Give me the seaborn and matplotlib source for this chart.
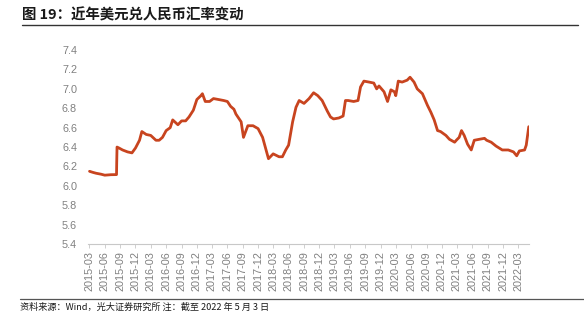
import matplotlib
matplotlib.use("Agg")
import matplotlib.pyplot as plt
import seaborn as sns
import pandas as pd

dates = [
    "2015-03-02", "2015-03-20", "2015-04-10", "2015-05-10", "2015-06-01", "2015-07-08",
    "2015-08-10", "2015-08-11", "2015-08-13", "2015-08-25", "2015-09-15", "2015-10-15",
    "2015-11-10", "2015-12-01", "2015-12-25", "2016-01-08", "2016-02-03", "2016-03-01",
    "2016-04-01", "2016-04-20", "2016-05-10", "2016-06-01", "2016-06-25", "2016-07-10",
    "2016-08-10", "2016-09-01", "2016-09-25", "2016-10-15", "2016-11-10", "2016-12-01",
    "2016-12-25", "2017-01-03", "2017-01-20", "2017-02-15", "2017-03-10", "2017-04-10",
    "2017-05-10", "2017-06-01", "2017-06-20", "2017-07-10", "2017-07-22", "2017-08-22",
    "2017-09-05", "2017-10-01", "2017-11-01", "2017-12-01", "2017-12-28", "2018-02-01",
    "2018-03-01", "2018-04-05", "2018-04-25", "2018-05-15", "2018-06-01", "2018-06-25",
    "2018-07-15", "2018-08-03", "2018-09-01", "2018-10-01", "2018-10-28", "2018-11-22",
    "2018-12-18", "2019-01-18", "2019-02-06", "2019-02-24", "2019-03-28", "2019-04-22",
    "2019-05-06", "2019-05-22", "2019-06-24", "2019-07-20", "2019-08-04", "2019-08-24",
    "2019-09-24", "2019-10-22", "2019-11-08", "2019-11-22", "2019-12-22", "2020-01-12",
    "2020-02-01", "2020-02-22", "2020-03-01", "2020-03-16", "2020-04-08", "2020-05-08",
    "2020-05-25", "2020-06-18", "2020-07-07", "2020-08-07", "2020-09-06", "2020-09-26",
    "2020-10-16", "2020-11-05", "2020-11-23", "2020-12-25", "2021-01-15", "2021-02-15",
    "2021-02-25", "2021-03-14", "2021-03-28", "2021-04-13", "2021-05-03", "2021-05-25",
    "2021-06-12", "2021-07-12", "2021-08-12", "2021-08-25", "2021-09-21", "2021-10-20",
    "2021-11-26", "2022-01-01", "2022-02-01", "2022-02-20", "2022-03-08", "2022-04-08",
    "2022-04-18", "2022-05-03",
]
rates = [
    6.15, 6.14, 6.13, 6.12, 6.11, 6.115,
    6.116, 6.23, 6.40, 6.39, 6.37, 6.35,
    6.34, 6.39, 6.47, 6.56, 6.53, 6.52,
    6.47, 6.47, 6.50, 6.57, 6.60, 6.68,
    6.63, 6.67, 6.67, 6.71, 6.78, 6.89,
    6.93, 6.95, 6.87, 6.87, 6.90, 6.89,
    6.88, 6.87, 6.82, 6.79, 6.74, 6.66,
    6.50, 6.62, 6.62, 6.59, 6.50, 6.28,
    6.33, 6.30, 6.30, 6.37, 6.42, 6.66,
    6.81, 6.88, 6.85, 6.90, 6.96, 6.93,
    6.88, 6.77, 6.71, 6.69, 6.70, 6.72,
    6.88, 6.88, 6.87, 6.88, 7.02, 7.08,
    7.07, 7.06, 7.00, 7.03, 6.97, 6.87,
    6.99, 6.97, 6.93, 7.08, 7.07, 7.09,
    7.12, 7.07, 7.00, 6.95, 6.83, 6.76,
    6.68, 6.57, 6.56, 6.52, 6.48, 6.45,
    6.47, 6.50, 6.57, 6.52, 6.43, 6.37,
    6.47, 6.48, 6.49, 6.47, 6.45, 6.41,
    6.37, 6.37, 6.35, 6.31, 6.36, 6.37,
    6.42, 6.61,
]
yticks = [5.4, 5.6, 5.8, 6.0, 6.2, 6.4, 6.6, 6.8, 7.0, 7.2, 7.4]

df = pd.DataFrame({"date": pd.to_datetime(dates), "rate": rates})

sns.set_theme(style="white")
plt.rcParams["font.family"] = ["Noto Sans CJK SC", "DejaVu Sans"]

fig = plt.figure(figsize=(5.84, 3.19), dpi=100)
ax = fig.add_axes([0.151, 0.235, 0.755, 0.608])

sns.lineplot(data=df, x="date", y="rate", ax=ax, color="#C8441F", linewidth=2.0)

ax.set_xlim(pd.Timestamp("2015-02-22"), pd.Timestamp("2022-05-05"))
ax.set_ylim(5.4, 7.4)
ax.set_yticks(yticks)
ax.set_yticklabels([f"{v:.1f}" for v in yticks], fontfamily="Liberation Sans",
                   fontsize=7.8, color="#808080")
xt = pd.date_range("2015-03-01", "2022-03-01", freq="3MS")
ax.set_xticks(xt)
ax.set_xticklabels([d.strftime("%Y-%m") for d in xt], rotation=90,
                   fontfamily="Liberation Sans", fontsize=7.8, color="#808080")
ax.set_xlabel("")
ax.set_ylabel("")
for s in ["top", "right", "left"]:
    ax.spines[s].set_visible(False)
ax.spines["bottom"].set_color("#C8C8C8")
ax.spines["bottom"].set_linewidth(0.8)
ax.tick_params(axis="x", length=3, width=0.6, color="#C8C8C8", pad=2, bottom=True)
ax.tick_params(axis="y", length=0, pad=8)
ax.grid(False)

fig.text(22 / 584, 1 - 15 / 319, "图 19：近年美元兑人民币汇率变动", fontsize=10.4,
         fontweight="bold", color="#1a1a1a", va="center", ha="left")
fig.add_artist(plt.Line2D([22 / 584, 578 / 584], [1 - 25 / 319, 1 - 25 / 319],
                          color="#333333", linewidth=1.0))
fig.add_artist(plt.Line2D([20 / 584, 584 / 584], [1 - 299 / 319, 1 - 299 / 319],
                          color="#555555", linewidth=0.9))
fig.text(20 / 584, 1 - 307.5 / 319, "资料来源：Wind，光大证券研究所 注：截至 2022 年 5 月 3 日",
         fontsize=6.6, color="#1a1a1a", va="center", ha="left")

fig.savefig("out.png", dpi=100)
